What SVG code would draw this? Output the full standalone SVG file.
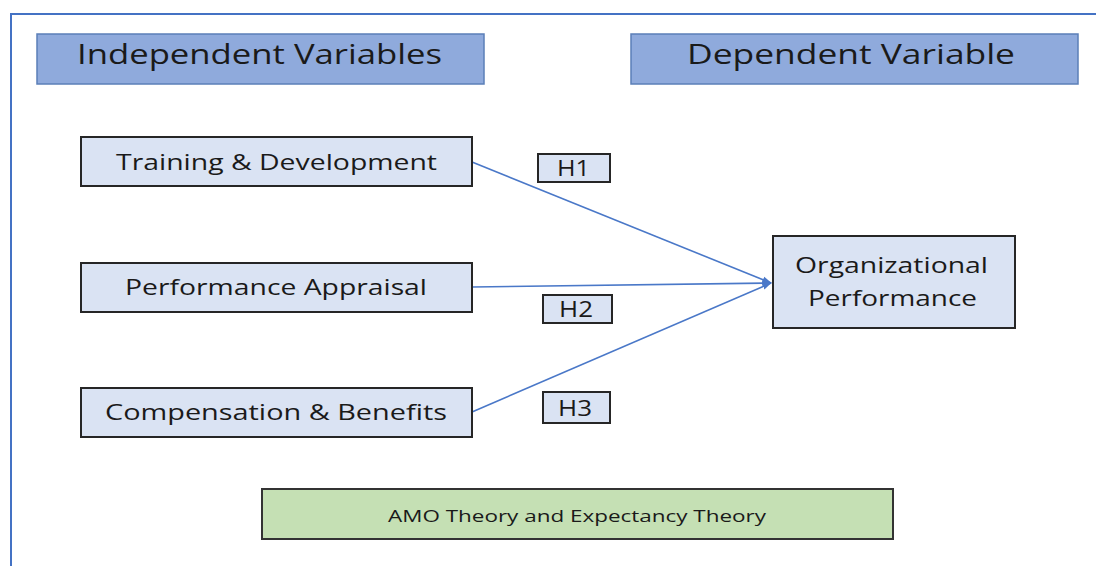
<svg xmlns="http://www.w3.org/2000/svg" width="1096" height="566" viewBox="0 0 1096 566">
<defs>
<style>
.hdr{fill:#8FAADC;stroke:#5B7FB8;stroke-width:1.5}
.node{fill:#DAE3F3;stroke:#262626;stroke-width:2}
.h{fill:#DAE3F3;stroke:#262626;stroke-width:2}
.theory{fill:#C5E0B4;stroke:#333333;stroke-width:2}
.t{font-family:"Open Sans","Noto Sans",sans-serif;fill:#1A1A1A;font-weight:500}
.conn{stroke:#4A78C8;stroke-width:1.6;fill:none}
</style>
<marker id="arr" viewBox="0 0 10 10" refX="9" refY="5" markerWidth="6" markerHeight="6" orient="auto" markerUnits="strokeWidth">
<path d="M0,1.5 L10,5 L0,8.5 Z" fill="#4A78C8"/>
</marker>
</defs>
<rect width="1096" height="566" fill="#FFFFFF"/>
<path d="M11,566 L11,14 L1096,14" fill="none" stroke="#4472C4" stroke-width="2"/>

<g id="hdr-independent">
<rect class="hdr" x="37" y="34" width="447" height="50"/>
<text class="t" x="77" y="64" font-size="27" textLength="365" lengthAdjust="spacingAndGlyphs">Independent Variables</text>
</g>
<g id="hdr-dependent">
<rect class="hdr" x="631" y="34" width="447" height="50"/>
<text class="t" x="687" y="64" font-size="27" textLength="328" lengthAdjust="spacingAndGlyphs">Dependent Variable</text>
</g>

<g id="connectors">
<line class="conn" x1="472" y1="162" x2="771" y2="283" marker-end="url(#arr)"/>
<line class="conn" x1="472" y1="287" x2="771" y2="283" marker-end="url(#arr)"/>
<line class="conn" x1="472" y1="412" x2="771" y2="283" marker-end="url(#arr)"/>
</g>

<g id="node-training">
<rect class="node" x="81" y="137" width="391" height="49"/>
<text class="t" x="116" y="170" font-size="22" textLength="321" lengthAdjust="spacingAndGlyphs">Training &amp; Development</text>
</g>
<g id="node-appraisal">
<rect class="node" x="81" y="263" width="391" height="49"/>
<text class="t" x="125" y="295" font-size="22" textLength="302" lengthAdjust="spacingAndGlyphs">Performance Appraisal</text>
</g>
<g id="node-compensation">
<rect class="node" x="81" y="388" width="391" height="49"/>
<text class="t" x="105" y="420" font-size="22" textLength="342" lengthAdjust="spacingAndGlyphs">Compensation &amp; Benefits</text>
</g>
<g id="node-orgperf">
<rect class="node" x="773" y="236" width="242" height="92"/>
<text class="t" x="795" y="273" font-size="22" textLength="193" lengthAdjust="spacingAndGlyphs">Organizational</text>
<text class="t" x="808" y="306" font-size="22" textLength="169" lengthAdjust="spacingAndGlyphs">Performance</text>
</g>

<g id="label-h1">
<rect class="h" x="538" y="154" width="72" height="28"/>
<text class="t" x="557" y="176" font-size="21" textLength="33" lengthAdjust="spacingAndGlyphs">H1</text>
</g>
<g id="label-h2">
<rect class="h" x="543" y="295" width="69" height="28"/>
<text class="t" x="559" y="317" font-size="21" textLength="34" lengthAdjust="spacingAndGlyphs">H2</text>
</g>
<g id="label-h3">
<rect class="h" x="543" y="392" width="67" height="31"/>
<text class="t" x="558" y="416" font-size="21" textLength="34" lengthAdjust="spacingAndGlyphs">H3</text>
</g>

<g id="node-theory">
<rect class="theory" x="262" y="489" width="631" height="50"/>
<text class="t" x="388" y="522" font-size="17" textLength="378" lengthAdjust="spacingAndGlyphs">AMO Theory and Expectancy Theory</text>
</g>
</svg>
